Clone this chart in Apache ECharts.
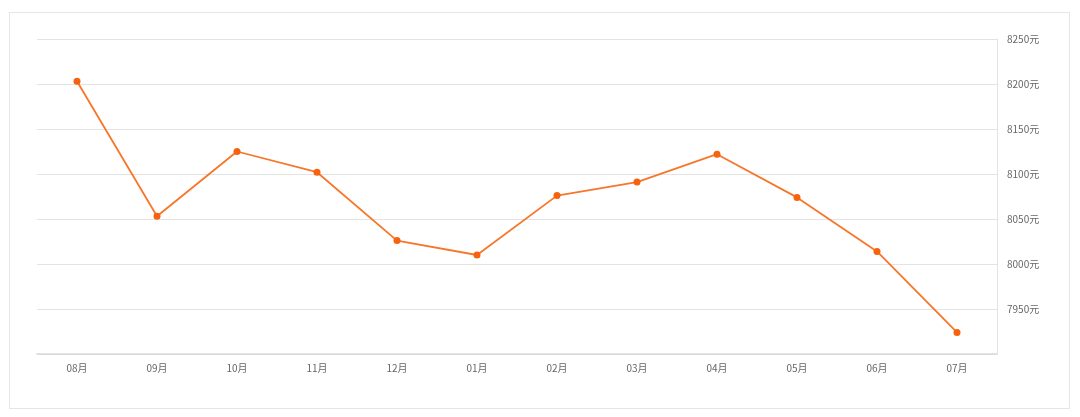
<!DOCTYPE html>
<html><head><meta charset="utf-8">
<script src="https://cdn.jsdelivr.net/npm/echarts@6/dist/echarts.min.js"></script>
<style>
html,body{margin:0;padding:0;background:#fff;}
#frame{position:absolute;left:9px;top:12px;width:1059px;height:395px;border:1px solid #e6e6e6;}
#c{position:absolute;left:0;top:0;width:1080px;height:417px;}
</style></head>
<body>
<div id="frame"></div>
<div id="c"></div>
<script>
const categories = ['08月','09月','10月','11月','12月','01月','02月','03月','04月','05月','06月','07月'];
const prices = [8203, 8053, 8125, 8102, 8026, 8010, 8076, 8091, 8122, 8074, 8014, 7924];
const yMin = 7900, yMax = 8250, yStep = 50;

const chart = echarts.init(document.getElementById('c'));
chart.setOption({
  animation: false,
  grid: {left: 37, right: 83, top: 39, bottom: 63, containLabel: false},
  xAxis: {
    type: 'category', data: categories, boundaryGap: true,
    axisLine: {lineStyle: {color: '#d9d9d9', width: 1.5}},
    axisTick: {alignWithLabel: true, length: 3, lineStyle: {color: '#d9d9d9'}},
    axisLabel: {color: '#666', fontSize: 10, margin: 9, fontFamily: 'Noto Sans CJK SC'}
  },
  yAxis: {
    type: 'value', position: 'right', min: yMin, max: yMax, interval: yStep,
    axisLine: {show: true, lineStyle: {color: '#e3e3e3'}},
    axisTick: {show: false},
    splitLine: {lineStyle: {color: '#e3e3e3'}},
    axisLabel: {color: '#666', fontSize: 10, margin: 10, showMinLabel: false, fontFamily: 'Noto Sans CJK SC',
      formatter: v => String(v) + '元'}
  },
  series: [{
    type: 'line', data: prices,
    symbol: 'circle', symbolSize: 7,
    lineStyle: {color: '#f7762a', width: 1.8},
    itemStyle: {color: '#f7620f'}
  }]
});
</script>
</body></html>
